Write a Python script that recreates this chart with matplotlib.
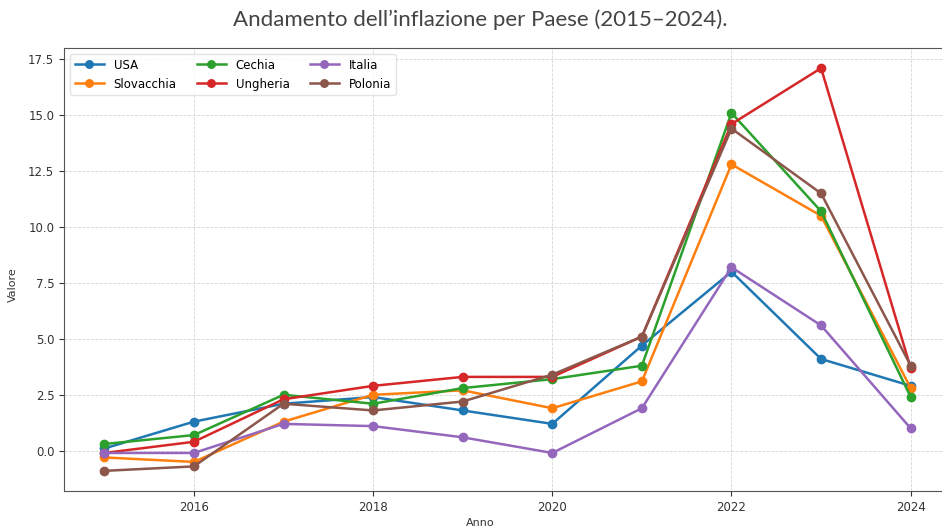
import matplotlib
matplotlib.use("Agg")
import matplotlib.pyplot as plt

years = [2015, 2016, 2017, 2018, 2019, 2020, 2021, 2022, 2023, 2024]
usa = [0.1, 1.3, 2.1, 2.4, 1.8, 1.2, 4.7, 8.0, 4.1, 2.9]
slovacchia = [-0.3, -0.5, 1.3, 2.5, 2.7, 1.9, 3.1, 12.8, 10.5, 2.8]
cechia = [0.3, 0.7, 2.5, 2.1, 2.8, 3.2, 3.8, 15.1, 10.7, 2.4]
ungheria = [-0.1, 0.4, 2.3, 2.9, 3.3, 3.3, 5.1, 14.6, 17.1, 3.7]
italia = [-0.1, -0.1, 1.2, 1.1, 0.6, -0.1, 1.9, 8.2, 5.6, 1.0]
polonia = [-0.9, -0.7, 2.1, 1.8, 2.2, 3.4, 5.1, 14.4, 11.5, 3.8]

series = [("USA", usa), ("Slovacchia", slovacchia), ("Cechia", cechia),
          ("Ungheria", ungheria), ("Italia", italia), ("Polonia", polonia)]
colors = ["#1f77b4", "#ff7f0e", "#2ca02c", "#d62728", "#9467bd", "#8c564b"]

W, H = 942, 528
fig = plt.figure(figsize=(W / 100, H / 100), dpi=100)
ax = fig.add_axes([64 / W, (H - 491) / H, (951 - 64) / W, (491 - 48) / H])

for (name, vals), c in zip(series, colors):
    ax.plot(years, vals, marker="o", markersize=6, linewidth=1.8, color=c, label=name)

ax.grid(True, linestyle="--", linewidth=0.6, color="#cccccc", alpha=0.8)
ax.set_xticks([2016, 2018, 2020, 2022, 2024])
ax.tick_params(labelsize=8.5, colors="#333333")
for s in ax.spines.values():
    s.set_color("#555555")

ax.set_xlabel("Anno", fontsize=8, color="#333333")
ax.set_ylabel("Valore", fontsize=8, color="#333333")
ax.xaxis.set_label_coords((480 - 64) / (951 - 64), -(518 - 491) / (491 - 48))
ax.yaxis.set_label_coords(-(64 - 18) / (951 - 64), (491 - 285) / (491 - 48))

ax.legend(loc="upper left", ncol=3, fontsize=8.5, frameon=True, framealpha=0.8,
          edgecolor="#dddddd", columnspacing=1.7, handlelength=2.5, markerscale=0.9,
          labelspacing=0.5, borderaxespad=0.5)

fig.text(480 / W, 1 - 20 / H, "Andamento dell\u2019inflazione per Paese (2015\u20132024).",
         ha="center", va="center", fontsize=16, family=["Lato", "DejaVu Sans"], color="#444444")

fig.savefig("out.png", dpi=100)
